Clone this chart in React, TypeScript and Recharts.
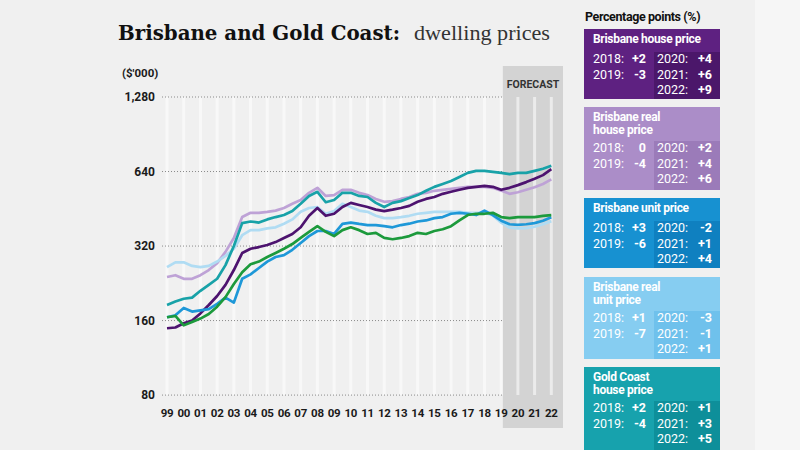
import React from 'react';
import { LineChart, Line, XAxis, YAxis, ReferenceArea, ReferenceLine } from 'recharts';

// Half-yearly periods (decimal years)
const years = [
  1999, 1999.5, 2000, 2000.5, 2001, 2001.5, 2002, 2002.5, 2003, 2003.5,
  2004, 2004.5, 2005, 2005.5, 2006, 2006.5, 2007, 2007.5, 2008, 2008.5,
  2009, 2009.5, 2010, 2010.5, 2011, 2011.5, 2012, 2012.5, 2013, 2013.5,
  2014, 2014.5, 2015, 2015.5, 2016, 2016.5, 2017, 2017.5, 2018, 2018.5,
  2019, 2019.5, 2020, 2020.5, 2021, 2021.5, 2022,
];

// Values in $'000
const brisbaneHouse = [
  149, 150, 156, 160, 171, 185, 201, 223, 256, 300,
  312, 317, 323, 332, 345, 358, 381, 424, 456, 424,
  432, 460, 478, 469, 460, 449, 443, 449, 456, 465,
  483, 496, 505, 520, 530, 540, 550, 555, 560, 555,
  540, 550, 564, 580, 598, 619, 654,
];
const brisbaneRealHouse = [
  240, 244, 236, 236, 244, 256, 273, 303, 345, 419,
  436, 436, 440, 445, 456, 474, 491, 525, 550, 510,
  514, 540, 540, 525, 514, 496, 483, 486, 496, 505,
  520, 525, 535, 540, 545, 550, 555, 555, 555, 550,
  536, 520, 528, 540, 553, 570, 595,
];
const brisbaneUnit = [
  165, 168, 180, 174, 176, 178, 187, 198, 189, 236,
  246, 261, 277, 289, 294, 309, 329, 351, 368, 368,
  358, 393, 398, 393, 389, 389, 385, 381, 389, 394,
  402, 406, 415, 419, 432, 436, 432, 427, 445, 427,
  405, 392, 390, 392, 396, 405, 418,
];
const brisbaneRealUnit = [
  263, 275, 275, 266, 263, 266, 277, 292, 312, 354,
  371, 371, 377, 381, 394, 410, 440, 456, 460, 432,
  443, 474, 460, 445, 440, 424, 415, 415, 419, 424,
  432, 436, 440, 440, 440, 440, 436, 436, 436, 425,
  398, 380, 377, 378, 383, 392, 403,
];
const goldCoastHouse = [
  185, 191, 196, 198, 211, 223, 236, 268, 320, 396,
  402, 398, 410, 419, 427, 443, 474, 510, 530, 481,
  491, 525, 525, 510, 505, 478, 460, 478, 486, 500,
  514, 535, 555, 570, 586, 608, 632, 644, 644, 638,
  632, 625, 632, 632, 644, 657, 675,
];
const goldCoastUnit = [
  165, 167, 153, 158, 163, 170, 182, 199, 225, 251,
  270, 277, 289, 300, 312, 326, 345, 365, 385, 365,
  351, 371, 381, 371, 358, 362, 345, 341, 345, 351,
  362, 358, 368, 374, 385, 406, 427, 432, 432, 436,
  419, 415, 419, 419, 419, 424, 427,
];

const xTicks = [
  1999, 2000, 2001, 2002, 2003, 2004, 2005, 2006, 2007, 2008, 2009, 2010,
  2011, 2012, 2013, 2014, 2015, 2016, 2017, 2018, 2019, 2020, 2021, 2022,
];
const yTicks = [80, 160, 320, 640, 1280];
const xDomain = [1998.7, 2022.7];
const yDomain = [58.9, 1708];
const forecastStart = 2019.1;

// Legend panel content
const panelTitle = 'Percentage points (%)';
const panels = [
  { title: ['Brisbane house price'], left: [['2018:', '+2'], ['2019:', '-3']], right: [['2020:', '+4'], ['2021:', '+6'], ['2022:', '+9']], bg: '#5e2181', dark: '#4b176a', text: '#ffffff' },
  { title: ['Brisbane real', 'house price'], left: [['2018:', '0'], ['2019:', '-4']], right: [['2020:', '+2'], ['2021:', '+4'], ['2022:', '+6']], bg: '#ab8dc8', dark: '#9b7bb9', text: '#ffffff' },
  { title: ['Brisbane unit price'], left: [['2018:', '+3'], ['2019:', '-6']], right: [['2020:', '-2'], ['2021:', '+1'], ['2022:', '+4']], bg: '#1791d1', dark: '#0f80c0', text: '#ffffff' },
  { title: ['Brisbane real', 'unit price'], left: [['2018:', '+1'], ['2019:', '-7']], right: [['2020:', '-3'], ['2021:', '-1'], ['2022:', '+1']], bg: '#86cdf1', dark: '#6fc1ec', text: '#ffffff' },
  { title: ['Gold Coast', 'house price'], left: [['2018:', '+2'], ['2019:', '-4']], right: [['2020:', '+1'], ['2021:', '+3'], ['2022:', '+5']], bg: '#17a2ad', dark: '#0e8f9a', text: '#ffffff' },
];
const panelTops = [29, 107, 198, 277, 367];
const panelHeights = [70, 83, 70, 82, 90];

const data = years.map((year, i) => ({
  year,
  brisbaneHouse: brisbaneHouse[i],
  brisbaneRealHouse: brisbaneRealHouse[i],
  brisbaneUnit: brisbaneUnit[i],
  brisbaneRealUnit: brisbaneRealUnit[i],
  goldCoastHouse: goldCoastHouse[i],
  goldCoastUnit: goldCoastUnit[i],
}));

const SANS = 'Roboto, "Open Sans", sans-serif';

const XTick = (props: any) => {
  const { x, y, payload } = props;
  return (
    <text x={x} y={y} dy={-11} textAnchor="middle" fontFamily={SANS} fontWeight={700} fontSize={11.5} letterSpacing={-0.3} fill="#1a1a1a">
      {String(payload.value).slice(2)}
    </text>
  );
};

const Panel = ({ p, top, height }: any) => {
  const nTitle = p.title.length;
  const rowStart = nTitle === 1 ? 30 : 41;
  const rowGap = 15.5;
  const darkTop = rowStart - 7;
  const rowStyle: React.CSSProperties = { position: 'absolute', fontSize: 12.5, lineHeight: '14px', fontFamily: SANS, color: p.text };
  return (
    <div style={{ position: 'absolute', left: 584, top, width: 136, height, background: p.bg, overflow: 'hidden' }}>
      <div style={{ position: 'absolute', left: 70, top: darkTop, width: 66, height: height - darkTop, background: p.dark }} />
      {p.title.map((t: string, i: number) => (
        <div key={i} style={{ position: 'absolute', left: 9, top: 5 + i * 12.5, fontFamily: SANS, fontWeight: 700, fontSize: 12, lineHeight: '11px', letterSpacing: -0.3, color: p.text, whiteSpace: 'nowrap' }}>{t}</div>
      ))}
      {p.left.map((r: string[], i: number) => (
        <React.Fragment key={'l' + i}>
          <div style={{ ...rowStyle, left: 9, top: rowStart + i * rowGap - 7 }}>{r[0]}</div>
          <div style={{ ...rowStyle, right: 136 - 62, top: rowStart + i * rowGap - 7, fontWeight: 700 }}>{r[1]}</div>
        </React.Fragment>
      ))}
      {p.right.map((r: string[], i: number) => (
        <React.Fragment key={'r' + i}>
          <div style={{ ...rowStyle, left: 73, top: rowStart + i * rowGap - 7 }}>{r[0]}</div>
          <div style={{ ...rowStyle, right: 8, top: rowStart + i * rowGap - 7, fontWeight: 700 }}>{r[1]}</div>
        </React.Fragment>
      ))}
    </div>
  );
};

export default function App() {
  return (
    <div style={{ position: 'absolute', left: 0, top: 0, width: 800, height: 450, background: '#f0f0f0', overflow: 'hidden' }}>
      <div style={{ position: 'absolute', left: 755, top: 0, width: 45, height: 450, background: '#f6f6f6' }} />
      <svg width={800} height={450} style={{ position: 'absolute', left: 0, top: 0 }}>
        <text x={118} y={40} fontFamily='"DejaVu Serif", serif' fontWeight={700} fontSize={20.5} textLength={282} lengthAdjust="spacingAndGlyphs" fill="#111">
          Brisbane and Gold Coast:
        </text>
        <text x={414} y={40} fontFamily='"Liberation Serif", serif' fontSize={20} textLength={136} lengthAdjust="spacingAndGlyphs" fill="#333">
          dwelling prices
        </text>
        <text x={122} y={77} fontFamily={SANS} fontWeight={700} fontSize={11.5} fill="#1a1a1a">($'000)</text>
      </svg>
      <div style={{ position: 'absolute', left: 0, top: 0 }}>
        <LineChart width={800} height={450} data={data} margin={{ top: 66, right: 237, bottom: 0, left: 102 }}>
          <XAxis
            dataKey="year"
            type="number"
            domain={xDomain}
            ticks={xTicks}
            allowDataOverflow
            axisLine={false}
            tickLine={false}
            tickSize={0}
            tickMargin={0}
            height={22}
            interval={0}
            tick={<XTick />}
          />
          <YAxis
            type="number"
            scale="log"
            domain={yDomain}
            ticks={yTicks}
            allowDataOverflow
            axisLine={false}
            tickLine={false}
            tickSize={0}
            tickMargin={7}
            width={60}
            interval={0}
            tickFormatter={(v: number) => v.toLocaleString('en-US')}
            tick={{ fontFamily: SANS, fontWeight: 700, fontSize: 12, fill: '#1a1a1a' }}
          />
          <ReferenceArea
            x1={forecastStart}
            x2={xDomain[1]}
            y1={yDomain[0]}
            y2={yDomain[1]}
            fill="#d3d3d3"
            fillOpacity={1}
            stroke="none"
            ifOverflow="extendDomain"
            label={{ value: 'FORECAST', position: 'insideTop', offset: 15, fill: '#333', fontSize: 10.5, fontWeight: 700, fontFamily: SANS }}
          />
          {xTicks.map((yr) => (
            <ReferenceLine key={'v' + yr} segment={[{ x: yr, y: yTicks[0] }, { x: yr, y: yTicks[yTicks.length - 1] }]} stroke="#ffffff" strokeOpacity={0.55} strokeWidth={3} />
          ))}
          {yTicks.map((v) => (
            <ReferenceLine key={'h' + v} segment={[{ x: xDomain[0], y: v }, { x: forecastStart, y: v }]} stroke="#8a8a8a" strokeWidth={1} strokeDasharray="1 2" />
          ))}
          <Line dataKey="brisbaneRealHouse" stroke="#bea2d6" strokeWidth={2.7} dot={false} isAnimationActive={false} strokeLinejoin="round" />
          <Line dataKey="brisbaneRealUnit" stroke="#b0dcf3" strokeWidth={2.7} dot={false} isAnimationActive={false} strokeLinejoin="round" />
          <Line dataKey="brisbaneHouse" stroke="#4d136f" strokeWidth={2.7} dot={false} isAnimationActive={false} strokeLinejoin="round" />
          <Line dataKey="brisbaneUnit" stroke="#1e98d8" strokeWidth={2.7} dot={false} isAnimationActive={false} strokeLinejoin="round" />
          <Line dataKey="goldCoastHouse" stroke="#18a2a8" strokeWidth={2.7} dot={false} isAnimationActive={false} strokeLinejoin="round" />
          <Line dataKey="goldCoastUnit" stroke="#1c9a3c" strokeWidth={2.7} dot={false} isAnimationActive={false} strokeLinejoin="round" />
        </LineChart>
      </div>
      <div style={{ position: 'absolute', left: 585, top: 9, fontFamily: SANS, fontWeight: 700, fontSize: 12.5, lineHeight: '15px', letterSpacing: -0.4, color: '#111', whiteSpace: 'nowrap' }}>{panelTitle}</div>
      {panels.map((p, i) => (
        <Panel key={i} p={p} top={panelTops[i]} height={panelHeights[i]} />
      ))}
    </div>
  );
}
